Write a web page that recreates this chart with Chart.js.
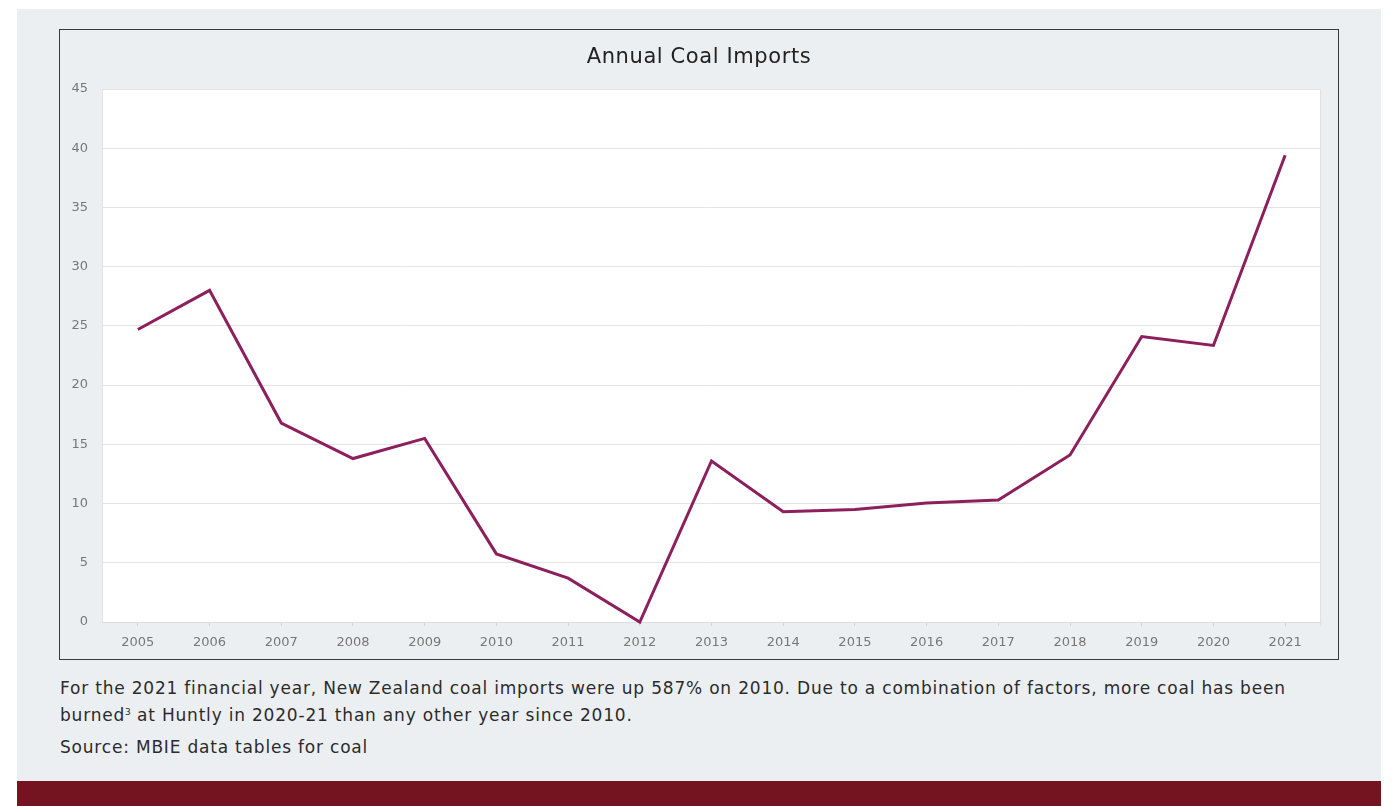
<!DOCTYPE html>
<html>
<head>
<meta charset="utf-8">
<script src="https://cdn.jsdelivr.net/npm/chart.js@4/dist/chart.umd.min.js"></script>
<style>
  html, body { margin: 0; padding: 0; background: #ffffff; }
  body { width: 1394px; height: 806px; position: relative; overflow: hidden; font-family: "DejaVu Sans", sans-serif; }
  .panel { position: absolute; left: 17px; top: 9px; width: 1364px; height: 772px; background: #eceff2; }
  .band { position: absolute; left: 17px; top: 781px; width: 1364px; height: 25px; background: #731420; }
  .box { position: absolute; left: 59px; top: 29px; width: 1278px; height: 629px; border: 1px solid #3a3a3a; }
  .box canvas { display: block; }
  .title { position: absolute; left: 0; right: 0; top: 12px; text-align: center; font-size: 21px; letter-spacing: 0.6px; color: #222222; line-height: 28px; margin: 0; font-weight: normal; }
  .note { position: absolute; left: 60px; color: #2b2b2b; font-size: 17px; letter-spacing: 0.8px; line-height: 27px; margin: 0; white-space: nowrap; }
  .note sup { font-size: 9px; vertical-align: 6px; line-height: 0; letter-spacing: 0; }
</style>
</head>
<body>
<div class="panel"></div>
<div class="box">
  <canvas id="c" width="1278" height="629"></canvas>
  <h1 class="title">Annual Coal Imports</h1>
</div>
<p class="note" style="top:675px;">For the 2021 financial year, New Zealand coal imports were up 587% on 2010. Due to a combination of factors, more coal has been<br>burned<sup>3</sup> at Huntly in 2020-21 than any other year since 2010.</p>
<p class="note" style="top:734px;">Source: MBIE data tables for coal</p>
<div class="band"></div>
<script>
const years = ['2005','2006','2007','2008','2009','2010','2011','2012','2013','2014','2015','2016','2017','2018','2019','2020','2021'];
const coalImports = [24.7, 28.0, 16.8, 13.8, 15.5, 5.75, 3.7, 0, 13.6, 9.3, 9.5, 10.05, 10.3, 14.1, 24.1, 23.35, 39.4];
const yTicks = [0, 5, 10, 15, 20, 25, 30, 35, 40, 45];

// white plot background with a thin frame
const plotFrame = {
  id: 'plotFrame',
  beforeDraw(chart) {
    const { ctx, chartArea: a } = chart;
    ctx.save();
    ctx.fillStyle = '#ffffff';
    ctx.fillRect(a.left, a.top, a.right - a.left, a.bottom - a.top);
    ctx.restore();
  },
  afterDraw(chart) {
    const { ctx, chartArea: a } = chart;
    ctx.save();
    ctx.strokeStyle = '#e2e2e2';
    ctx.lineWidth = 1;
    ctx.beginPath();
    ctx.moveTo(a.left + 0.5, a.bottom);
    ctx.lineTo(a.left + 0.5, a.top + 0.5);
    ctx.lineTo(a.right - 0.5, a.top + 0.5);
    ctx.lineTo(a.right - 0.5, a.bottom + 4);
    ctx.stroke();
    ctx.restore();
  }
};

new Chart(document.getElementById('c'), {
  type: 'line',
  data: {
    labels: years,
    datasets: [{
      data: coalImports,
      borderColor: '#8c1f5c',
      borderWidth: 3,
      pointRadius: 0,
      tension: 0,
      clip: false
    }]
  },
  options: {
    responsive: false,
    animation: false,
    layout: { padding: { left: 0, right: 17, top: 59, bottom: 0 } },
    plugins: {
      legend: { display: false },
      tooltip: { enabled: false },
      title: { display: false }
    },
    scales: {
      x: {
        offset: true,
        afterFit(s) { s.height = 37; },
        grid: { drawOnChartArea: false, drawTicks: true, tickLength: 4, color: '#d6d6d6', offset: false },
        border: { color: '#dcdcdc', width: 1 },
        ticks: { color: '#777777', padding: 9, maxRotation: 0, autoSkip: false, font: { family: 'DejaVu Sans', size: 13 } }
      },
      y: {
        min: 0,
        max: 45,
        afterFit(s) { s.width = 42; },
        afterBuildTicks(s) { s.ticks = yTicks.map(v => ({ value: v })); },
        grid: { color: '#e3e3e3', drawTicks: false },
        border: { display: false },
        ticks: { color: '#777777', padding: 14, font: { family: 'DejaVu Sans', size: 13 } }
      }
    }
  },
  plugins: [plotFrame]
});
</script>
</body>
</html>
